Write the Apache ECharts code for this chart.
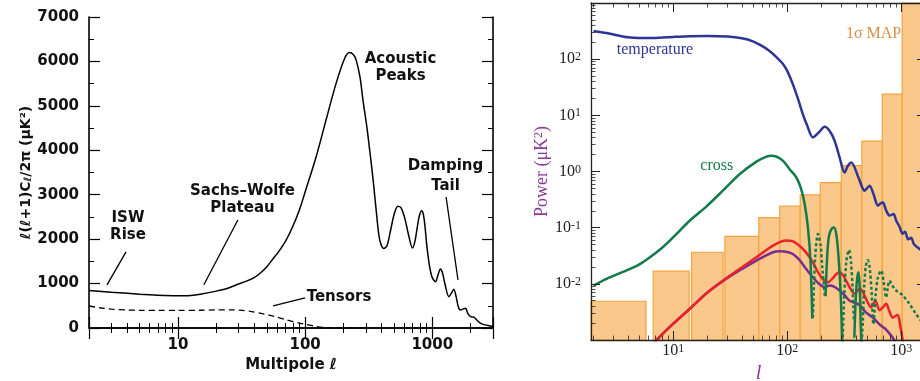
<!DOCTYPE html>
<html>
<head>
<meta charset="utf-8">
<script src="https://cdn.jsdelivr.net/npm/echarts@6/dist/echarts.min.js"></script>
<style>
  html, body { margin: 0; padding: 0; background: #fff; }
  #chart { width: 920px; height: 381px; }
</style>
</head>
<body>
<div id="chart"></div>
<script>
// left panel: l(l+1)C_l/2pi in uK^2
const ttL = [2, 3, 4, 5, 6, 8, 10, 12, 15, 20, 25, 30, 35, 40, 45, 50, 56, 62, 70, 79, 90, 101, 122, 146, 175,
  204, 223, 240, 252, 270, 285, 305, 322, 345, 364, 385, 415, 440, 470, 500, 535, 570, 610, 650, 698,
  730, 760, 790, 826, 850, 875, 907, 950, 995, 1058, 1110, 1157, 1200, 1260, 1349, 1410, 1477, 1540, 1600, 1667, 1750,
  1828, 1900, 2000, 2120, 2250, 2400, 2600, 2880, 3000]
const ttV = [845, 805, 780, 762, 750, 732, 725, 728, 760, 830, 900, 990, 1060, 1140, 1250, 1380, 1560, 1720, 1950, 2250, 2650, 3100, 3850, 4680, 5500,
  6060, 6200, 6150, 6030, 5650, 5130, 4550, 4000, 3250, 2580, 2000, 1790, 1850, 2200, 2550, 2740, 2700, 2450, 2100, 1800,
  1950, 2250, 2520, 2640, 2560, 2300, 1830, 1400, 1150, 1040, 1200, 1330, 1250, 980, 705, 780, 870, 700, 480, 405, 430,
  443, 330, 255, 245, 170, 105, 70, 45, 35]
const tensL = [2, 2.5, 3, 4, 5, 7, 10, 15, 20, 26, 32, 38, 45, 52, 58, 70, 89, 100, 122, 150, 200, 300]
const tensV = [495, 450, 425, 405, 398, 395, 395, 400, 408, 410, 395, 370, 330, 290, 255, 190, 115, 85, 35, 8, 0, 0]
// pointer lines [from, to] in (l, value)
const pointers = [
  [[3.91, 1714], [2.77, 972]],
  [[29.6, 2432], [16.0, 972]],
  [[100, 680], [56, 500]],
  [[1283, 2949], [1592, 1085]]
]
const leftTicksY = [0, 7000, 1000]

// right panel: power in uK^2
const tempL = [2, 2.6, 3, 4, 5, 6.5, 8, 10, 14, 20, 30, 40, 50, 60, 70, 80, 92, 100, 112, 125,
  137, 150, 168, 190, 213, 235, 261, 290, 318, 340, 365, 420, 477, 500, 528, 575, 624, 660, 690, 740,
  790, 857, 904, 965, 1030, 1080, 1150, 1220, 1300, 1445, 1650]
const tempV = [318, 292, 276, 245, 238, 238, 243, 249, 256, 258, 252, 235, 208, 172, 140, 110, 81.5, 62, 36, 19,
  10.5, 6.5, 4.05, 5.0, 6.25, 5.3, 3.5, 1.7, 0.96, 1.25, 1.45, 0.8, 0.456, 0.5, 0.56, 0.38, 0.247, 0.27, 0.28, 0.2,
  0.164, 0.175, 0.133, 0.105, 0.078, 0.085, 0.062, 0.066, 0.05, 0.042, 0.032]
// cross: negative values are drawn dotted
const crossL = [2, 2.6, 3.9, 5, 6.25, 8, 10, 14, 19.6, 27.4, 38.4, 53.7, 65, 72, 80, 92, 105, 120, 132, 142, 152, 160, 166,
  168, 176, 186, 196, 203, 214,
  217, 224, 232, 245, 257, 270, 282, 295, 304,
  306, 315, 330, 348, 362, 375, 385,
  388, 400, 412, 423, 433, 441, 447,
  450, 461, 475, 490, 509, 528, 548, 571, 595, 625, 668, 700, 738, 762, 790, 830, 904, 960, 1033, 1183, 1350, 1650]
const crossV = [0.0093, 0.0123, 0.0173, 0.022, 0.0298, 0.044, 0.0676, 0.134, 0.24, 0.46, 0.9, 1.5, 1.82, 1.91, 1.85, 1.55, 1.1, 0.79, 0.5, 0.27, 0.1, 0.025, 0.0024,
  -0.0025, -0.03, -0.077, -0.05, -0.02, -0.006,
  0.006, 0.03, 0.07, 0.095, 0.101, 0.075, 0.03, 0.006, 0.0009,
  -0.0009, -0.005, -0.025, -0.04, -0.025, -0.008, -0.0022,
  0.0011, 0.006, 0.013, 0.016, 0.008, 0.002, 0.0009,
  -0.0009, -0.0022, -0.01, -0.021, -0.0265, -0.02, -0.008, -0.0019, -0.006, -0.013, -0.0172, -0.011, -0.0057, -0.0085, -0.0114, -0.0095, -0.0076, -0.007, -0.0062, -0.0044, -0.0029, -0.0017]
const eL = [6.5, 7.16, 10, 14, 19.6, 27.4, 38.4, 53.7, 75, 98, 110, 124, 145, 168, 190, 213, 228, 250, 270, 288, 310,
  353, 390, 430, 455, 510, 545, 593, 645, 690, 737, 790, 842, 930, 980, 1030, 1060]
const eV = [0.0008, 0.001, 0.00195, 0.0036, 0.0068, 0.0115, 0.0185, 0.0297, 0.048, 0.059, 0.058, 0.05, 0.037, 0.024, 0.015, 0.0112, 0.0107, 0.0125, 0.015, 0.016, 0.014,
  0.0087, 0.0067, 0.0081, 0.0075, 0.0046, 0.0038, 0.005, 0.0034, 0.0038, 0.0044, 0.0032, 0.0025, 0.0028, 0.0018, 0.001, 0.0007]
const bL = [6.5, 7.16, 10, 14, 19.6, 27.4, 38.4, 53.7, 75, 86, 100, 112, 128, 145, 168, 190, 213, 235, 260, 288, 320,
  353, 415, 450, 490, 565, 645, 720, 790, 870, 900]
const bV = [0.0008, 0.001, 0.00195, 0.0036, 0.0068, 0.0113, 0.0175, 0.026, 0.0365, 0.038, 0.037, 0.034, 0.0267, 0.019, 0.0131, 0.01, 0.0087, 0.0093, 0.0088, 0.0076, 0.0062,
  0.005, 0.0044, 0.0038, 0.0031, 0.0025, 0.0019, 0.0016, 0.0013, 0.001, 0.0008]
// 1 sigma MAP bands
const mapLo = [1.9, 6.68, 14.5, 28.4, 56.3, 86, 130, 195, 298, 452, 682, 1020]
const mapHi = [5.77, 13.8, 27.4, 56.3, 86, 130, 195, 298, 452, 682, 1020, 1650]
const mapV = [0.0049, 0.0168, 0.0365, 0.070, 0.151, 0.243, 0.382, 0.632, 1.27, 3.48, 23.9, 2000]

const pairs = (xs, ys) => xs.map((x, i) => [x, ys[i]])

const monoFont = { fontFamily: 'DejaVu Sans', fontWeight: 'bold', fontSize: 15, color: '#111' }
const serif = 'Liberation Serif'
const purple = '#8a3a98'

const isPow10 = v => Math.abs(Math.log10(v) - Math.round(Math.log10(v))) < 1e-6
const powLabel = v => {
  if (!isPow10(v)) return ''
  const e = Math.round(Math.log10(v))
  return '{b|10}{s|' + (e < 0 ? '-' + (-e) : e) + '}'
}
const powRich = {
  b: { fontFamily: serif, fontSize: 16, color: '#222' },
  s: { fontFamily: serif, fontSize: 12, color: '#222', verticalAlign: 'top' }
}

const leftAxisBase = {
  gridIndex: 0,
  z: 10,
  axisLine: { lineStyle: { color: '#000', width: 1.6 } },
  axisTick: { inside: true, length: 11, lineStyle: { color: '#000', width: 1.2 } },
  splitLine: { show: false }
}
const rightAxisBase = {
  gridIndex: 1,
  z: 10,
  type: 'log',
  axisLine: { lineStyle: { color: '#222', width: 1.3 } },
  axisTick: { inside: true, length: 9, lineStyle: { color: '#222', width: 1 } },
  minorTick: { show: true, splitNumber: 9, length: 4.5, lineStyle: { color: '#222', width: 0.8 } },
  splitLine: { show: false }
}

const chart = echarts.init(document.getElementById('chart'))
chart.setOption({
  animation: false,
  backgroundColor: '#fff',
  grid: [
    { left: 89, top: 17, width: 404, height: 311, outerBoundsMode: 'none' },
    { left: 591, top: 3, width: 335, height: 337, outerBoundsMode: 'none' }
  ],
  xAxis: [
    {
      ...leftAxisBase, type: 'log', min: 2, max: 3000, position: 'bottom',
      minorTick: { show: true, splitNumber: 9, length: 5, lineStyle: { color: '#000', width: 1 } },
      axisLabel: { ...monoFont, margin: 10, formatter: v => isPow10(v) ? String(Math.round(v)) : '' },
      name: 'Multipole ℓ', nameLocation: 'middle', nameGap: 28, nameTextStyle: monoFont
    },
    {
      ...leftAxisBase, type: 'log', min: 2, max: 3000, position: 'top',
      minorTick: { show: true, splitNumber: 9, length: 5, lineStyle: { color: '#000', width: 1 } },
      axisLabel: { show: false }
    },
    {
      ...rightAxisBase, min: 1.9, max: 1650, position: 'bottom',
      axisLabel: { margin: 3, formatter: powLabel, rich: powRich },
      name: 'l', nameLocation: 'middle', nameGap: 20,
      nameTextStyle: { fontFamily: serif, fontStyle: 'italic', fontSize: 20, color: purple }
    },
    {
      ...rightAxisBase, gridIndex: 1, min: 1.9, max: 1650, position: 'top',
      axisLabel: { show: false }
    }
  ],
  yAxis: [
    {
      ...leftAxisBase, type: 'value', min: leftTicksY[0], max: leftTicksY[1], interval: leftTicksY[2], position: 'left',
      minorTick: { show: true, splitNumber: 2, length: 5, lineStyle: { color: '#000', width: 1 } },
      axisLabel: { ...monoFont, margin: 10, formatter: v => String(v) },
      name: 'ℓ(ℓ+1)C{sub|ℓ}/2π (μK²)', nameLocation: 'middle', nameRotate: 90, nameGap: 55,
      nameTextStyle: {
        fontFamily: 'DejaVu Sans', fontWeight: 'bold', fontSize: 14, color: '#111',
        rich: { sub: { fontFamily: 'DejaVu Sans', fontWeight: 'bold', fontSize: 10, color: '#111', verticalAlign: 'bottom' } }
      }
    },
    {
      ...leftAxisBase, type: 'value', min: leftTicksY[0], max: leftTicksY[1], interval: leftTicksY[2], position: 'right',
      minorTick: { show: true, splitNumber: 2, length: 5, lineStyle: { color: '#000', width: 1 } },
      axisLabel: { show: false }
    },
    {
      ...rightAxisBase, min: 1e-3, max: 1e3, position: 'left',
      axisLabel: {
        margin: 10, rich: powRich,
        formatter: v => (v > 1.5e-3 && v < 5e2) ? powLabel(v) : ''
      },
      name: 'Power (μK{s|2})', nameLocation: 'middle', nameRotate: 90, nameGap: 32,
      nameTextStyle: {
        fontFamily: serif, fontSize: 18, color: purple,
        rich: { s: { fontFamily: serif, fontSize: 12, color: purple, verticalAlign: 'top' } }
      }
    },
    {
      ...rightAxisBase, min: 1e-3, max: 1e3, position: 'right',
      axisLabel: { show: false }
    }
  ],
  series: [
    {
      type: 'line', xAxisIndex: 0, yAxisIndex: 0, data: pairs(ttL, ttV),
      showSymbol: false, smooth: 0.3, silent: true,
      lineStyle: { color: '#000', width: 1.5 },
      markLine: {
        silent: true, symbol: ['none', 'none'], label: { show: false },
        lineStyle: { color: '#000', width: 1.3, type: 'solid' },
        data: pointers.map(p => [{ coord: p[0] }, { coord: p[1] }])
      }
    },
    {
      type: 'line', xAxisIndex: 0, yAxisIndex: 0, data: pairs(tensL, tensV),
      showSymbol: false, smooth: 0.3, silent: true,
      lineStyle: { color: '#000', width: 1.3, type: [6, 4] }
    },
    {
      type: 'custom', xAxisIndex: 2, yAxisIndex: 2, silent: true,
      data: mapLo.map((lo, i) => [lo, mapHi[i], mapV[i]]),
      encode: { x: [0, 1], y: 2 },
      renderItem: (params, api) => {
        const a = api.coord([api.value(0), api.value(2)])
        const b = api.coord([api.value(1), 1e-3])
        const cs = params.coordSys
        const rect = echarts.graphic.clipRectByRect(
          { x: a[0], y: a[1], width: b[0] - a[0], height: b[1] - a[1] },
          { x: cs.x, y: cs.y, width: cs.width, height: cs.height })
        return rect && { type: 'rect', shape: rect, style: { fill: '#fbc88c', stroke: '#f4a33f', lineWidth: 1.2 } }
      }
    },
    {
      type: 'line', xAxisIndex: 2, yAxisIndex: 2, data: pairs(tempL, tempV),
      showSymbol: false, smooth: 0.3, silent: true,
      lineStyle: { color: '#2f3592', width: 2.5 }
    },
    {
      type: 'line', xAxisIndex: 2, yAxisIndex: 2, data: pairs(bL, bV),
      showSymbol: false, smooth: 0.3, silent: true,
      lineStyle: { color: '#7b2c8e', width: 2.5 }
    },
    {
      type: 'line', xAxisIndex: 2, yAxisIndex: 2, data: pairs(eL, eV),
      showSymbol: false, smooth: 0.3, silent: true,
      lineStyle: { color: '#ec2129', width: 2.5 }
    },
    {
      type: 'line', xAxisIndex: 2, yAxisIndex: 2,
      data: crossL.map((l, i) => [l, crossV[i] > 0 ? crossV[i] : null]),
      showSymbol: false, smooth: 0.3, silent: true, connectNulls: false,
      lineStyle: { color: '#137a4c', width: 2.5 }
    },
    {
      type: 'line', xAxisIndex: 2, yAxisIndex: 2,
      data: crossL.map((l, i) => [l, crossV[i] < 0 ? -crossV[i] : null]),
      showSymbol: false, smooth: 0.3, silent: true, connectNulls: false,
      lineStyle: { color: '#137a4c', width: 2.5, type: [3, 2.5] }
    }
  ],
  graphic: [
    { type: 'text', x: 128, y: 226.5, style: { text: 'ISW\nRise', ...monoFont, fill: '#111', align: 'center', verticalAlign: 'middle', lineHeight: 17 } },
    { type: 'text', x: 242.5, y: 199.5, style: { text: 'Sachs–Wolfe\nPlateau', ...monoFont, fill: '#111', align: 'center', verticalAlign: 'middle', lineHeight: 17 } },
    { type: 'text', x: 400.5, y: 67.5, style: { text: 'Acoustic\nPeaks', ...monoFont, fill: '#111', align: 'center', verticalAlign: 'middle', lineHeight: 17 } },
    { type: 'text', x: 445.5, y: 176, style: { text: 'Damping\nTail', ...monoFont, fill: '#111', align: 'center', verticalAlign: 'middle', lineHeight: 20 } },
    { type: 'text', x: 339, y: 297, style: { text: 'Tensors', ...monoFont, fill: '#111', align: 'center', verticalAlign: 'middle' } },
    { type: 'text', x: 655, y: 50, style: { text: 'temperature', fontFamily: serif, fontSize: 16, fill: '#2f3592', align: 'center', verticalAlign: 'middle' } },
    { type: 'text', x: 716.8, y: 166, style: { text: 'cross', fontFamily: serif, fontSize: 16, fill: '#137a4c', align: 'center', verticalAlign: 'middle' } },
    { type: 'text', x: 783, y: 228.5, style: { text: 'E-pol.', fontFamily: serif, fontSize: 16, fill: '#ec2129', align: 'center', verticalAlign: 'middle' } },
    { type: 'text', x: 791.5, y: 278.5, style: { text: 'B-pol.', fontFamily: serif, fontSize: 16, fill: '#7b2c8e', align: 'center', verticalAlign: 'middle' } },
    { type: 'text', x: 873.6, y: 33.3, style: { text: '1σ MAP', fontFamily: serif, fontSize: 16, fill: '#d8914a', align: 'center', verticalAlign: 'middle' } }
  ]
})
</script>
</body>
</html>
